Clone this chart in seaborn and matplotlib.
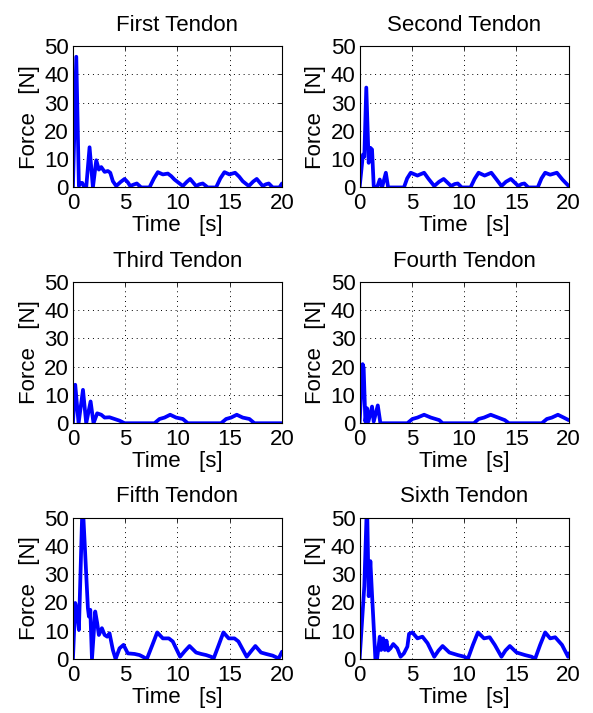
import matplotlib
matplotlib.use('Agg')
import matplotlib.pyplot as plt
import seaborn as sns

# time [s] and force [N] per tendon
titles = ['First Tendon', 'Second Tendon', 'Third Tendon',
          'Fourth Tendon', 'Fifth Tendon', 'Sixth Tendon']

t1 = [0, 0.32, 0.57, 0.70, 0.89, 1.08, 1.27, 1.59, 1.91, 2.23, 2.48, 2.71, 3.03, 3.34,
      3.57, 3.82, 4.14, 4.55, 4.94, 5.25, 5.48, 5.80, 6.11, 6.53, 7.32, 7.75, 8.12,
      8.60, 9.08, 9.40, 9.71, 10.51, 10.90, 11.21, 11.78, 12.10, 12.42, 12.90, 13.69,
      14.10, 14.49, 14.97, 15.51, 15.90, 16.24, 16.82, 17.25, 17.58, 18.15, 18.45,
      18.73, 19.11, 19.75, 20.0]
f1 = [0, 46.2, 0.5, 1.6, 1.6, 0, 0, 14.2, 0, 9.6, 6.3, 7.2, 5.5, 5.8,
      5.2, 2.2, 0.5, 1.9, 3.0, 1.8, 0.5, 1.0, 1.4, 0, 0, 3.2, 5.4,
      4.6, 4.9, 4.0, 2.8, 0.5, 2.0, 3.0, 0.5, 1.1, 1.4, 0, 0,
      3.2, 5.4, 4.6, 5.2, 3.8, 2.2, 0.5, 2.1, 3.0, 0.5, 1.1,
      1.4, 0, 0, 1.4]

t2 = [0, 0.32, 0.45, 0.64, 0.87, 1.03, 1.19, 1.35, 1.67, 1.93, 2.15, 2.51, 2.73, 4.24,
      4.55, 4.89, 5.53, 6.17, 6.60, 7.14, 7.60, 8.04, 8.75, 9.10, 9.39, 9.77, 10.61,
      11.00, 11.38, 11.96, 12.60, 13.10, 13.57, 14.00, 14.47, 15.18, 15.50, 15.76,
      16.14, 17.04, 17.40, 17.75, 18.23, 18.87, 19.40, 20.0]
f2 = [0, 11.6, 10.8, 35.3, 8.7, 14.0, 13.4, 0.5, 0, 2.8, 0, 5.2, 0, 0,
      3.2, 5.2, 4.2, 5.2, 3.0, 0.5, 2.0, 3.0, 0.5, 1.2, 1.4, 0, 0,
      3.0, 5.2, 4.2, 5.2, 2.8, 0.5, 2.0, 3.0, 0.5, 1.2, 1.4,
      0, 0, 3.2, 5.2, 4.5, 5.2, 2.8, 0.5]

t3 = [0, 0.22, 0.54, 0.96, 1.27, 1.69, 1.97, 2.32, 2.71, 3.03, 3.50, 3.98, 4.46, 4.94,
      7.80, 8.28, 8.76, 9.30, 9.87, 10.51, 10.99, 14.17, 14.65, 15.13, 15.67, 16.24,
      16.88, 17.36, 20.0]
f3 = [0, 13.6, 0, 11.8, 0, 7.7, 0, 3.5, 3.0, 2.0, 2.1, 1.5, 0.9, 0,
      0, 1.5, 2.0, 3.0, 2.0, 1.5, 0, 0, 1.5, 2.0, 3.0, 2.0,
      1.5, 0, 0]

t4 = [0, 0.29, 0.39, 0.55, 0.71, 0.84, 1.19, 1.35, 1.74, 1.99, 4.57, 5.05, 5.53, 6.17,
      6.82, 7.62, 7.94, 10.93, 11.38, 11.90, 12.54, 13.25, 13.89, 14.28, 17.43, 17.91,
      18.39, 18.97, 19.52, 20.0]
f4 = [0, 20.9, 19.5, 0.6, 5.3, 0.6, 5.9, 0.6, 6.3, 0, 0, 1.5, 2.0, 3.0,
      2.0, 1.1, 0, 0, 1.5, 2.0, 3.0, 2.0, 1.1, 0, 0, 1.5,
      2.0, 3.0, 2.0, 1.1]

t5 = [0, 0.22, 0.38, 0.57, 0.92, 1.43, 1.53, 1.66, 1.82, 2.13, 2.32, 2.48, 2.77, 3.03,
      3.28, 3.50, 3.82, 4.08, 4.46, 4.84, 5.25, 5.89, 6.37, 6.69, 7.07, 7.60, 8.06,
      8.60, 9.17, 9.55, 10.25, 10.70, 11.15, 11.78, 12.26, 12.74, 13.22, 13.44, 13.95,
      14.39, 14.90, 15.45, 15.83, 16.62, 17.05, 17.45, 17.99, 18.47, 19.11, 19.68, 20.0]
f5 = [0, 19.8, 17.4, 10.3, 56.0, 18.0, 15.0, 17.4, 0, 16.8, 12.7, 8.5, 10.9, 8.5,
      7.9, 9.1, 3.2, 0, 3.8, 5.0, 2.0, 1.8, 1.4, 0.8, 0, 5.0, 9.4,
      7.3, 7.3, 6.2, 0.8, 2.8, 4.6, 2.3, 1.8, 1.4, 0.8, 0, 5.0,
      9.4, 7.3, 7.3, 6.2, 0.8, 2.8, 4.6, 2.3, 1.8, 1.2, 0.2, 2.6]

t6 = [0, 0.45, 0.71, 0.87, 1.03, 1.19, 1.51, 1.67, 1.93, 2.06, 2.25, 2.41, 2.57, 2.73,
      2.96, 3.22, 3.60, 3.92, 4.24, 4.57, 4.73, 5.05, 5.53, 6.01, 6.50, 7.14, 7.55, 7.94,
      8.59, 9.39, 10.03, 10.35, 10.84, 11.32, 11.90, 12.44, 12.93, 13.57, 13.95, 14.37,
      15.02, 15.82, 16.46, 16.78, 17.27, 17.75, 18.23, 18.71, 19.36, 19.94, 20.0]
f6 = [0, 25.7, 56.0, 22.2, 34.6, 22.7, 0, 0, 7.9, 3.2, 7.3, 3.2, 6.5, 3.0,
      3.8, 5.3, 3.8, 0.8, 2.0, 4.4, 8.9, 9.4, 7.3, 7.9, 5.6, 0.8, 3.0, 4.6,
      2.3, 1.4, 0.8, 0, 5.0, 9.4, 7.3, 7.7, 5.0, 0.8, 3.0, 4.6,
      2.3, 1.4, 0.8, 0, 5.0, 9.4, 7.3, 7.7, 5.0, 0.8, 2.0]

times = [t1, t2, t3, t4, t5, t6]
forces = [f1, f2, f3, f4, f5, f6]

sns.set_style('white')
plt.rcParams['font.family'] = ['Liberation Sans', 'DejaVu Sans']
plt.rcParams['text.color'] = 'black'
plt.rcParams['axes.labelcolor'] = 'black'
plt.rcParams['xtick.color'] = 'black'
plt.rcParams['ytick.color'] = 'black'

fig, axes = plt.subplots(3, 2, figsize=(5.93, 7.13), dpi=100)
fig.subplots_adjust(left=0.123, right=0.959, top=0.9355, bottom=0.0757,
                    wspace=0.371, hspace=0.667)

for ax, title, t, f in zip(axes.flat, titles, times, forces):
    sns.lineplot(x=t, y=f, ax=ax, color='blue', linewidth=2.7, sort=False, estimator=None)
    ax.set_xlim(0, 20)
    ax.set_ylim(0, 50)
    ax.set_xticks([0, 5, 10, 15, 20])
    ax.set_yticks([0, 10, 20, 30, 40, 50])
    ax.grid(True, color='black', linestyle=(0, (1, 4)), linewidth=0.7)
    ax.tick_params(direction='in', top=True, right=True, length=3, width=0.6,
                   labelsize=16, color='black', labelcolor='black')
    ax.tick_params(axis='x', pad=4)
    ax.tick_params(axis='y', pad=3)
    for sp in ax.spines.values():
        sp.set_color('black')
        sp.set_linewidth(0.8)
    ax.set_title(title, fontsize=16, pad=11, color='black')
    ax.set_xlabel('Time   [s]', fontsize=16, labelpad=1)
    ax.set_ylabel('Force   [N]', fontsize=16, labelpad=3)

fig.savefig('out.png', dpi=100)
